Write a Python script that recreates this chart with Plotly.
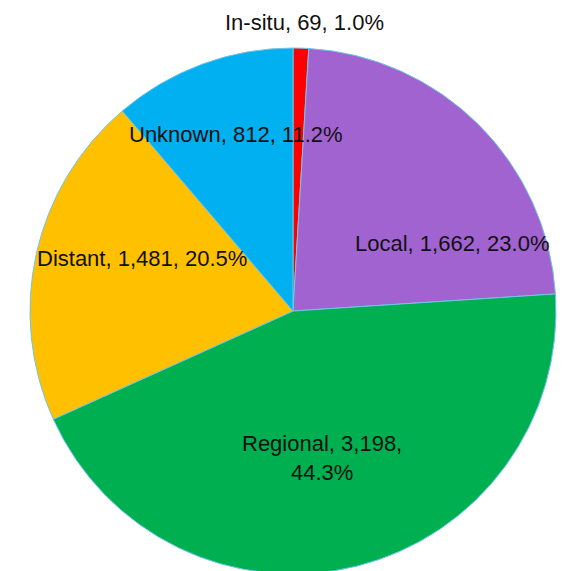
import plotly.graph_objects as go

# Data
categories = ["In-situ", "Local", "Regional", "Distant", "Unknown"]
values = [69, 1662, 3198, 1481, 812]
colors = ["#FF0000", "#A163D0", "#00B050", "#FFC000", "#00B0F0"]

total = sum(values)
W = H = 571

fig = go.Figure()
fig.add_trace(go.Pie(
    labels=categories,
    values=values,
    sort=False,
    direction="clockwise",
    rotation=0,
    marker=dict(colors=colors, line=dict(color="#6EC6E8", width=1)),
    textinfo="none",
    hoverinfo="label+value+percent",
    showlegend=False,
    domain=dict(x=[22 / W, 548 / W], y=[5 / H, 531 / H]),
))

# label placement (paper coords) per category
label_pos = {
    "In-situ": (0.520, 0.975),
    "Local": (0.778, 0.587),
    "Regional": (0.550, 0.212),
    "Distant": (0.235, 0.562),
    "Unknown": (0.399, 0.778),
}

for cat, val in zip(categories, values):
    pct = f"{val / total * 100:.1f}%"
    sep = ",<br>" if cat == "Regional" else ", "
    text = f"{cat}, {val:,}{sep}{pct}"
    x, y = label_pos[cat]
    fig.add_annotation(
        x=x, y=y, xref="paper", yref="paper",
        text=text, showarrow=False,
        xanchor="center", yanchor="middle",
        font=dict(family="Arial, Liberation Sans, sans-serif", size=22, color="#111111"),
    )

fig.update_layout(
    width=W, height=H,
    margin=dict(l=0, r=0, t=0, b=0),
    paper_bgcolor="white",
    plot_bgcolor="white",
)

fig.write_html("out.html")
